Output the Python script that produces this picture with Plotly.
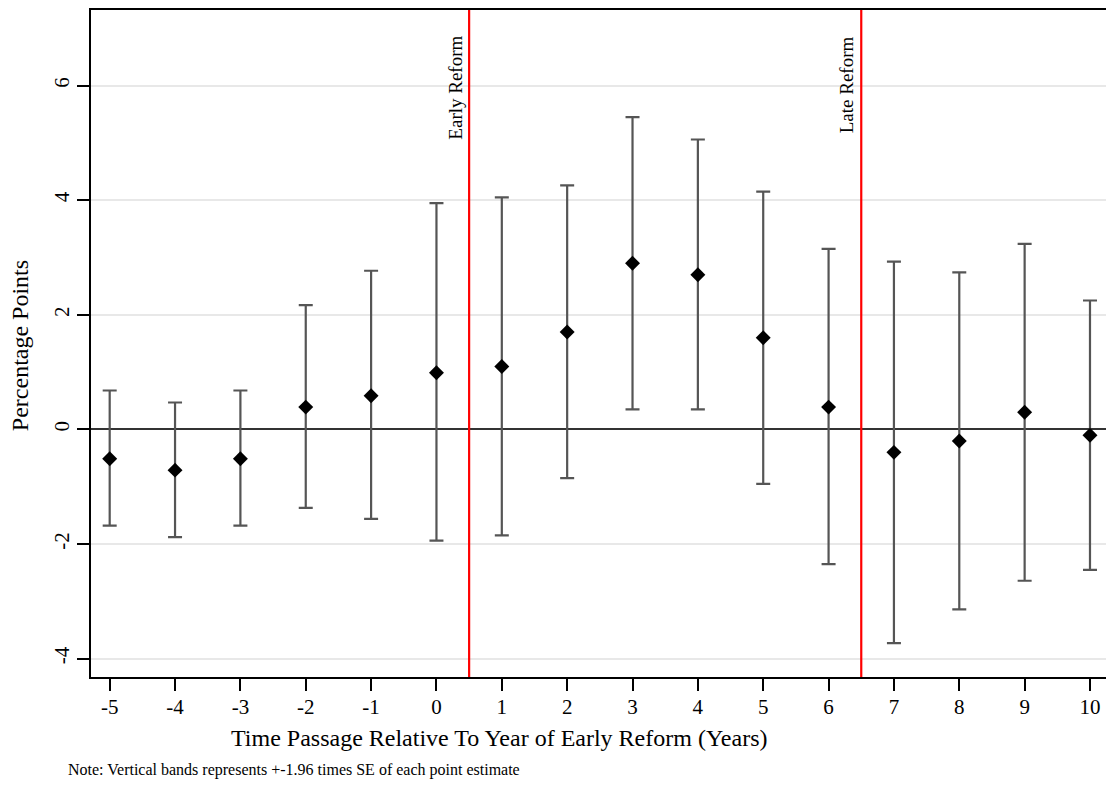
import plotly.graph_objects as go

years = [-5, -4, -3, -2, -1, 0, 1, 2, 3, 4, 5, 6, 7, 8, 9, 10]
estimate = [-0.51, -0.71, -0.51, 0.39, 0.59, 0.99, 1.10, 1.70, 2.90, 2.70, 1.60, 0.39, -0.40, -0.20, 0.30, -0.10]
upper = [0.68, 0.47, 0.68, 2.17, 2.77, 3.95, 4.05, 4.26, 5.45, 5.06, 4.15, 3.15, 2.93, 2.74, 3.24, 2.25]
lower = [-1.68, -1.88, -1.68, -1.37, -1.56, -1.94, -1.85, -0.85, 0.35, 0.35, -0.95, -2.35, -3.73, -3.14, -2.64, -2.45]
reform_x = [0.5, 6.5]
reform_labels = ["Early Reform", "Late Reform"]
y_ticks = [-4, -2, 0, 2, 4, 6]

err_plus = [u - e for u, e in zip(upper, estimate)]
err_minus = [e - l for e, l in zip(estimate, lower)]

FONT = "Liberation Serif, Times New Roman, serif"

fig = go.Figure()
fig.add_trace(go.Scatter(
    x=years, y=estimate, mode="markers",
    marker=dict(symbol="diamond", size=11.5, color="black"),
    error_y=dict(type="data", array=err_plus, arrayminus=err_minus,
                 color="#555555", thickness=2.2, width=7),
    showlegend=False,
))

for xv, lab in zip(reform_x, reform_labels):
    fig.add_shape(type="line", x0=xv, x1=xv, y0=0, y1=1, xref="x", yref="paper",
                  line=dict(color="red", width=2.2), layer="above")
    fig.add_annotation(x=xv, y=1, xref="x", yref="paper", text=lab, textangle=-90,
                       showarrow=False, xanchor="right", yanchor="top", xshift=-2, yshift=-24,
                       font=dict(family=FONT, size=19, color="black"))

# x-axis title (centred as in the original, which is cropped on the right)
fig.add_annotation(x=0.402, y=0, xref="paper", yref="paper",
                   text="Time Passage Relative To Year of Early Reform (Years)",
                   showarrow=False, xanchor="center", yanchor="middle", yshift=-61,
                   font=dict(family=FONT, size=24, color="black"))
# y-axis title
fig.add_annotation(x=0, y=0.496, xref="paper", yref="paper", text="Percentage Points",
                   textangle=-90, showarrow=False, xanchor="center", yanchor="middle", xshift=-71,
                   font=dict(family=FONT, size=24, color="black"))
# note
fig.add_annotation(x=0, y=0, xref="paper", yref="paper",
                   text="Note: Vertical bands represents +-1.96 times SE of each point estimate",
                   showarrow=False, xanchor="left", yanchor="middle", xshift=-25, yshift=-93,
                   font=dict(family=FONT, size=16, color="black"))

fig.update_layout(
    width=1107, height=791,
    margin=dict(l=91, r=1, t=10, b=114),
    paper_bgcolor="white", plot_bgcolor="white",
    font=dict(family=FONT, color="black", size=21),
    xaxis=dict(
        range=[-5.286, 10.245], tickvals=years, ticktext=[str(v) for v in years],
        ticks="outside", ticklen=12, tickwidth=2, tickcolor="black",
        showline=True, linewidth=2.2, linecolor="black", mirror=True,
        showgrid=False, zeroline=False,
        tickfont=dict(size=21), ticklabelstandoff=-2,
    ),
    yaxis=dict(
        range=[-4.32, 7.32], tickvals=y_ticks, ticktext=[str(v) for v in y_ticks],
        tickangle=-90,
        ticks="outside", ticklen=12, tickwidth=2, tickcolor="black",
        showline=True, linewidth=2.2, linecolor="black",
        showgrid=True, gridcolor="#e8e8e8", gridwidth=2,
        zeroline=True, zerolinecolor="#333333", zerolinewidth=2.2,
        tickfont=dict(size=21),
    ),
)

fig.write_html("out.html", config={"displayModeBar": False},
               post_script="document.body.style.margin='0';")
